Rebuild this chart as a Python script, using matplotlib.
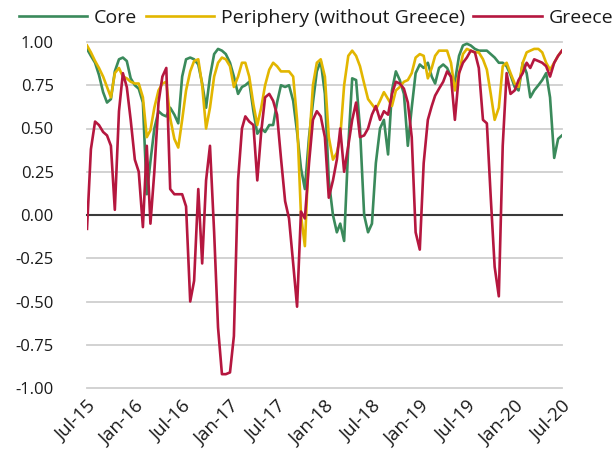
import matplotlib
matplotlib.use("Agg")
import matplotlib.pyplot as plt
import matplotlib.dates as mdates
import pandas as pd

# semi-monthly observations, Jul-2015 .. Jul-2020
start = "2015-07-01"
n_obs = 121

core = [
    0.96, 0.92, 0.88, 0.81, 0.71, 0.65, 0.67, 0.83, 0.90, 0.91,
    0.89, 0.79, 0.75, 0.73, 0.65, 0.12, 0.31, 0.50, 0.60, 0.58,
    0.57, 0.62, 0.58, 0.53, 0.80, 0.90, 0.91, 0.90, 0.87, 0.76,
    0.62, 0.80, 0.93, 0.96, 0.95, 0.93, 0.88, 0.80, 0.70, 0.74,
    0.75, 0.77, 0.60, 0.47, 0.50, 0.48, 0.52, 0.52, 0.65, 0.75,
    0.74, 0.75, 0.66, 0.48, 0.27, 0.15, 0.45, 0.65, 0.83, 0.89,
    0.70, 0.20, 0.00, -0.10, -0.05, -0.15, 0.40, 0.79, 0.78, 0.50,
    0.00, -0.10, -0.05, 0.30, 0.50, 0.55, 0.35, 0.72, 0.83, 0.78,
    0.70, 0.40, 0.62, 0.82, 0.87, 0.85, 0.88, 0.80, 0.76, 0.85,
    0.87, 0.85, 0.80, 0.77, 0.92, 0.98, 0.99, 0.98, 0.96, 0.95,
    0.95, 0.95, 0.93, 0.91, 0.88, 0.88, 0.86, 0.81, 0.74, 0.72,
    0.88, 0.82, 0.68, 0.72, 0.75, 0.78, 0.82, 0.68, 0.33, 0.44,
    0.46,
]

periphery = [
    0.98, 0.94, 0.89, 0.85, 0.80, 0.74, 0.68, 0.82, 0.85, 0.80,
    0.79, 0.77, 0.76, 0.76, 0.68, 0.45, 0.49, 0.62, 0.72, 0.76,
    0.77, 0.56, 0.44, 0.39, 0.55, 0.72, 0.83, 0.89, 0.90, 0.75,
    0.50, 0.62, 0.80, 0.88, 0.91, 0.90, 0.86, 0.74, 0.80, 0.88,
    0.88, 0.80, 0.64, 0.52, 0.62, 0.75, 0.84, 0.88, 0.86, 0.83,
    0.83, 0.83, 0.80, 0.55, 0.00, -0.18, 0.40, 0.75, 0.88, 0.90,
    0.80, 0.45, 0.32, 0.36, 0.45, 0.75, 0.92, 0.95, 0.92, 0.86,
    0.76, 0.67, 0.64, 0.61, 0.66, 0.71, 0.67, 0.63, 0.72, 0.74,
    0.77, 0.78, 0.82, 0.91, 0.93, 0.92, 0.79, 0.85, 0.92, 0.95,
    0.95, 0.95, 0.88, 0.72, 0.82, 0.93, 0.96, 0.95, 0.94, 0.94,
    0.90, 0.84, 0.70, 0.55, 0.62, 0.86, 0.88, 0.82, 0.76, 0.74,
    0.88, 0.94, 0.95, 0.96, 0.96, 0.94, 0.88, 0.84, 0.88, 0.92,
    0.95,
]

greece = [
    -0.08, 0.38, 0.54, 0.52, 0.48, 0.46, 0.40, 0.03, 0.60, 0.82,
    0.74, 0.55, 0.32, 0.25, -0.07, 0.40, -0.05, 0.25, 0.65, 0.80,
    0.85, 0.15, 0.12, 0.12, 0.12, 0.05, -0.50, -0.38, 0.15, -0.28,
    0.20, 0.40, -0.10, -0.65, -0.92, -0.92, -0.91, -0.70, 0.20, 0.50,
    0.57, 0.54, 0.52, 0.20, 0.48, 0.68, 0.70, 0.66, 0.58, 0.33,
    0.08, -0.02, -0.28, -0.53, 0.02, -0.02, 0.30, 0.55, 0.60, 0.57,
    0.45, 0.10, 0.20, 0.32, 0.50, 0.25, 0.40, 0.55, 0.65, 0.45,
    0.46, 0.50, 0.58, 0.63, 0.55, 0.60, 0.58, 0.70, 0.77, 0.76,
    0.73, 0.65, 0.45, -0.10, -0.20, 0.30, 0.55, 0.63, 0.69, 0.73,
    0.77, 0.83, 0.80, 0.55, 0.82, 0.88, 0.91, 0.95, 0.94, 0.85,
    0.55, 0.53, 0.10, -0.30, -0.47, 0.40, 0.82, 0.70, 0.72, 0.78,
    0.82, 0.88, 0.85, 0.90, 0.89, 0.88, 0.86, 0.80, 0.88, 0.92,
    0.95,
]

series_names = ["Core", "Periphery (without Greece)", "Greece"]
series_colors = ["#3a8a5b", "#e2b600", "#b5173f"]
y_ticks = [1.00, 0.75, 0.50, 0.25, 0.00, -0.25, -0.50, -0.75, -1.00]
x_tick_dates = ["2015-07-01", "2016-01-01", "2016-07-01", "2017-01-01",
                "2017-07-01", "2018-01-01", "2018-07-01", "2019-01-01",
                "2019-07-01", "2020-01-01", "2020-07-01"]

# build the date index (1st and 16th of each month)
base = pd.Timestamp(start)
dates = []
for i in range(n_obs):
    month = base + pd.DateOffset(months=i // 2)
    dates.append(month + pd.Timedelta(days=15 * (i % 2)))
dates = pd.to_datetime(dates)

plt.rcParams['font.family'] = ['Open Sans', 'DejaVu Sans']
text_color = "#1a1a1a"

fig = plt.figure(figsize=(6.15, 4.68), dpi=100)
ax = fig.add_axes([87 / 615, 1 - 388 / 468, 475 / 615, 346 / 468])

for yv in y_ticks:
    if yv == 0:
        ax.axhline(yv, color="#3a3a3a", lw=1.5, zorder=1, clip_on=False)
    else:
        ax.axhline(yv, color="#cfcfcf", lw=1.3, zorder=0, clip_on=False)

handles = []
for vals, name, col in zip([core, periphery, greece], series_names, series_colors):
    h, = ax.plot(dates, vals, color=col, lw=1.9, label=name, zorder=3,
                 solid_joinstyle="round")
    handles.append(h)

ax.set_ylim(-1.0, 1.0)
ax.set_xlim(pd.Timestamp(x_tick_dates[0]), pd.Timestamp(x_tick_dates[-1]))
ax.set_yticks(y_ticks)
ax.set_yticklabels([f"{v:.2f}" for v in y_ticks])
ax.set_xticks(pd.to_datetime(x_tick_dates))
ax.xaxis.set_major_formatter(mdates.DateFormatter("%b-%y"))
for s in ax.spines.values():
    s.set_visible(False)
ax.tick_params(axis="both", length=0, colors=text_color)
ax.tick_params(axis="y", pad=24, labelsize=12)
ax.tick_params(axis="x", pad=7, labelsize=13.5)
for lab in ax.get_xticklabels():
    lab.set_rotation(45)
    lab.set_ha("right")
    lab.set_rotation_mode("anchor")

leg = fig.legend(handles, series_names, loc="upper left",
                 bbox_to_anchor=(19 / 615, 1 - 9 / 468), ncol=3, frameon=False,
                 fontsize=14, handlelength=3.5, handletextpad=0.35,
                 columnspacing=0.45, borderpad=0, borderaxespad=0)
for t in leg.get_texts():
    t.set_color(text_color)

fig.savefig("out.png", dpi=100)
